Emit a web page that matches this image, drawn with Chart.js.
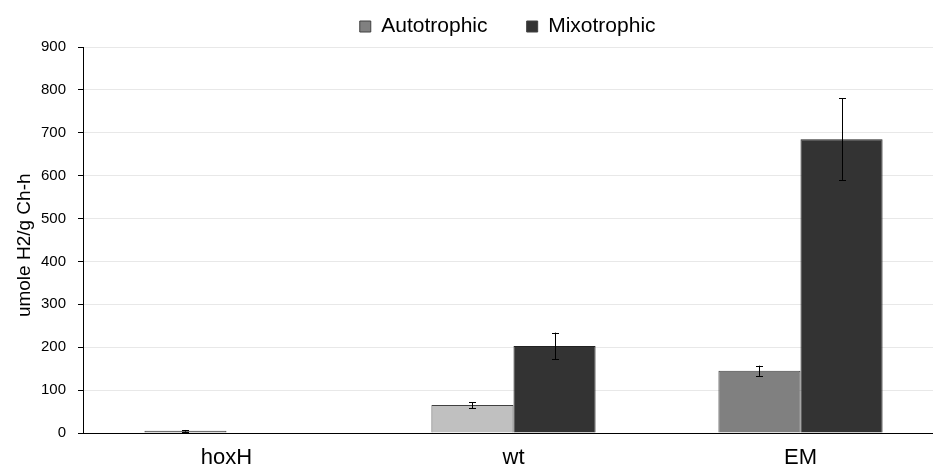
<!DOCTYPE html>
<html>
<head>
<meta charset="utf-8">
<script src="https://cdn.jsdelivr.net/npm/chart.js@4.4.1/dist/chart.umd.min.js"></script>
<style>
  html, body { margin: 0; padding: 0; background: #fff; overflow: hidden; }
  #wrap { width: 944px; height: 469px; }
</style>
</head>
<body>
<div id="wrap"><canvas id="c" width="944" height="469"></canvas></div>
<script>
const categories = ['hoxH', 'wt', 'EM'];
const seriesNames = ['Autotrophic', 'Mixotrophic'];
const autotrophic = [5, 65, 145];
const autotrophicErr = [2, 7, 12];
const mixotrophic = [0, 203, 685];
const mixotrophicErr = [0, 31, 95];
const yTicks = [0, 100, 200, 300, 400, 500, 600, 700, 800, 900];

const errorBars = {
  id: 'errorBars',
  afterDatasetsDraw(chart) {
    const ctx = chart.ctx;
    const y = chart.scales.y;
    const errs = [autotrophicErr, mixotrophicErr];
    chart.data.datasets.forEach((ds, di) => {
      const meta = chart.getDatasetMeta(di);
      meta.data.forEach((bar, i) => {
        const e = errs[di][i];
        if (!e) return;
        const v = ds.data[i];
        const yt = y.getPixelForValue(v + e);
        const yb = y.getPixelForValue(v - e);
        const x = Math.round(bar.x) + 0.5;
        ctx.save();
        ctx.strokeStyle = '#000';
        ctx.lineWidth = 1;
        ctx.beginPath();
        ctx.moveTo(x, yt); ctx.lineTo(x, yb);
        ctx.moveTo(x - 3.5, Math.round(yt) + 0.5); ctx.lineTo(x + 3.5, Math.round(yt) + 0.5);
        ctx.moveTo(x - 3.5, Math.round(yb) + 0.5); ctx.lineTo(x + 3.5, Math.round(yb) + 0.5);
        ctx.stroke();
        ctx.restore();
      });
    });
  }
};

Chart.defaults.font.family = '"Liberation Sans", Arial, sans-serif';
Chart.defaults.color = '#000';

new Chart(document.getElementById('c'), {
  type: 'bar',
  data: {
    labels: categories,
    datasets: [
      {
        label: seriesNames[0],
        data: autotrophic,
        backgroundColor: ['#808080', '#c0c0c0', '#808080'],
        borderColor: '#404040',
        borderWidth: 1,
        categoryPercentage: 0.572,
        barPercentage: 1.0
      },
      {
        label: seriesNames[1],
        data: mixotrophic,
        backgroundColor: '#333333',
        borderColor: '#222222',
        borderWidth: 1,
        categoryPercentage: 0.572,
        barPercentage: 1.0
      }
    ]
  },
  options: {
    responsive: false,
    animation: false,
    layout: { padding: { top: 6, right: 0, left: 0, bottom: 0 } },
    plugins: {
      legend: {
        position: 'top',
        fullSize: false,
        labels: {
          font: { size: 21 },
          boxWidth: 11,
          boxHeight: 11,
          padding: 10,
          color: '#000',
          generateLabels(chart) {
            const items = Chart.defaults.plugins.legend.labels.generateLabels(chart);
            items.forEach((it, i) => {
              it.fillStyle = i === 0 ? '#808080' : '#333333';
              it.strokeStyle = '#404040';
              it.lineWidth = 1;
              it.text = it.text + (i === 0 ? '     ' : '  ');
            });
            return items;
          }
        }
      },
      tooltip: { enabled: false }
    },
    scales: {
      x: {
        grid: { display: false, drawTicks: false },
        border: { display: true, color: '#000', width: 1 },
        ticks: { font: { size: 22 }, padding: 12, color: '#000' },
        afterFit(scale) { scale.height = 36; }
      },
      y: {
        min: 0,
        max: 900,
        afterBuildTicks(scale) { scale.ticks = yTicks.map(v => ({ value: v })); },
        grid: { color: '#e8e8e8', tickColor: '#000', tickLength: 5 },
        border: { display: true, color: '#000', width: 1 },
        ticks: { font: { size: 15 }, padding: 12, color: '#000' },
        title: {
          display: true,
          text: 'umole H2/g Ch-h  ',
          font: { size: 19 },
          color: '#000',
          padding: { top: 13, bottom: 0 }
        },
        afterFit(scale) { scale.width = 83; }
      }
    }
  },
  plugins: [errorBars]
});
</script>
</body>
</html>
